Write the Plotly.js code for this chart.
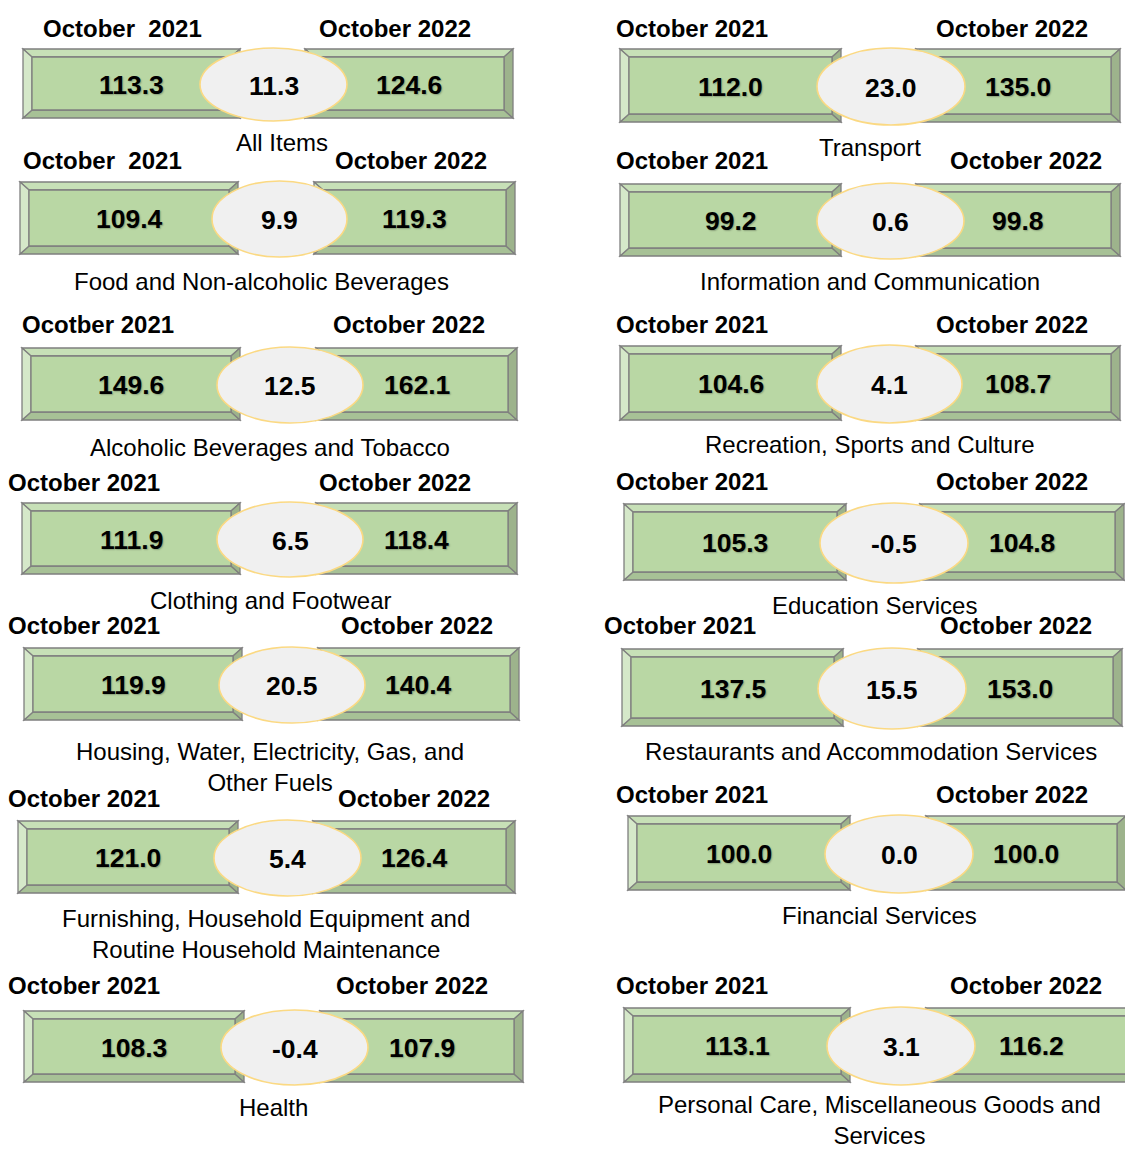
<!DOCTYPE html>
<html>
<head>
<meta charset="utf-8">
<script src="https://cdn.plot.ly/plotly-3.0.1.min.js"></script>
<style>html,body{margin:0;padding:0;background:#fff;}#chart{width:1125px;height:1149px;}</style>
</head>
<body>
<div id="chart"></div>
<script>
// ---- DATA ----
const categories = [
  "All Items",
  "Food and Non-alcoholic Beverages",
  "Alcoholic Beverages and Tobacco",
  "Clothing and Footwear",
  "Housing, Water, Electricity, Gas, and<br>Other Fuels",
  "Furnishing, Household Equipment and<br>Routine Household Maintenance",
  "Health",
  "Transport",
  "Information and Communication",
  "Recreation, Sports and Culture",
  "Education Services",
  "Restaurants and Accommodation Services",
  "Financial Services",
  "Personal Care, Miscellaneous Goods and<br>Services"
];
const oct2021 = [113.3, 109.4, 149.6, 111.9, 119.9, 121.0, 108.3, 112.0, 99.2, 104.6, 105.3, 137.5, 100.0, 113.1];
const oct2022 = [124.6, 119.3, 162.1, 118.4, 140.4, 126.4, 107.9, 135.0, 99.8, 108.7, 104.8, 153.0, 100.0, 116.2];
const change  = [11.3, 9.9, 12.5, 6.5, 20.5, 5.4, -0.4, 23.0, 0.6, 4.1, -0.5, 15.5, 0.0, 3.1];
const headerLeft = ["October  2021", "October  2021", "Ocotber 2021", "October 2021", "October 2021", "October 2021", "October 2021",
                    "October 2021", "October 2021", "October 2021", "October 2021", "October 2021", "October 2021", "October 2021"];
const headerRight = Array(14).fill("October 2022");

// ---- LAYOUT GEOMETRY (pixel positions of each panel) ----
// [headerY, headerLeftX, headerRightX, boxTop, boxBottom, leftBoxX0, leftBoxX1, rightBoxX0, rightBoxX1, ellX0, ellX1, labelX, labelY]
const panelGeom = [
  [28, 122, 395, 49, 118, 23, 240, 305, 513, 200, 347, 282, 142],
  [160, 102, 411, 182, 254, 20, 238, 314, 515, 212, 347, 261, 281],
  [324, 98, 409, 348, 420, 22, 240, 316, 517, 217, 363, 270, 447],
  [482, 84, 395, 503, 574, 22, 240, 316, 517, 217, 363, 270, 600],
  [625, 84, 417, 648, 720, 24, 242, 318, 519, 219, 365, 270, 767],
  [798, 84, 414, 821, 893, 18, 238, 313, 515, 214, 361, 266, 934],
  [985, 84, 412, 1011, 1082, 24, 244, 320, 523, 221, 368, 273, 1107],
  [28, 692, 1012, 49, 122, 620, 841, 916, 1120, 817, 965, 870, 147],
  [160, 692, 1026, 184, 256, 620, 841, 916, 1120, 817, 964, 870, 281],
  [324, 692, 1012, 346, 420, 620, 841, 916, 1120, 817, 962, 870, 444],
  [481, 692, 1012, 504, 580, 624, 846, 920, 1124, 820, 968, 874, 605],
  [625, 680, 1016, 649, 726, 622, 843, 918, 1122, 818, 966, 871, 751],
  [794, 692, 1012, 816, 890, 628, 850, 926, 1126, 825, 973, 879, 915],
  [985, 692, 1026, 1008, 1082, 624, 850, 926, 1136, 827, 975, 879, 1120]
];

// ---- STYLE ----
const FONT = "Liberation Sans, Arial, Helvetica, sans-serif";
const C = {
  face: "#b9d7a4", top: "#c7e0b7", left: "#d5e8c9", bottom: "#a7c196", right: "#9db38c",
  edge: "#7f7f7f", ellFill: "#f0f0f0", ellLine: "#fbd983"
};
const IX = 9, IY = 8;

const shapes = [];
const annotations = [];

function poly(pts, fill) {
  const d = "M" + pts.map(p => p[0] + "," + p[1]).join(" L") + " Z";
  shapes.push({type: "path", xref: "x", yref: "y", path: d, fillcolor: fill,
               line: {color: C.edge, width: 1.3}, layer: "above"});
}
function bevelBox(x0, x1, y0, y1) {
  const ix0 = x0 + IX, ix1 = x1 - IX, iy0 = y0 + IY, iy1 = y1 - IY;
  poly([[x0,y0],[x1,y0],[ix1,iy0],[ix0,iy0]], C.top);
  poly([[x0,y1],[x1,y1],[ix1,iy1],[ix0,iy1]], C.bottom);
  poly([[x0,y0],[ix0,iy0],[ix0,iy1],[x0,y1]], C.left);
  poly([[x1,y0],[ix1,iy0],[ix1,iy1],[x1,y1]], C.right);
  poly([[ix0,iy0],[ix1,iy0],[ix1,iy1],[ix0,iy1]], C.face);
}
function txt(x, y, text, size, bold, shadow) {
  const f = {family: FONT, size: size, color: "#000", weight: bold ? "bold" : "normal"};
  if (shadow) f.shadow = "1px 1px 1.5px rgba(0,0,0,0.25)";
  annotations.push({xref: "x", yref: "y", x: x, y: y, text: text, showarrow: false,
                    xanchor: "center", yanchor: "middle", font: f});
}

panelGeom.forEach((g, i) => {
  const [hy, hlx, hrx, by0, by1, lx0, lx1, rx0, rx1, ex0, ex1, labx, laby] = g;
  bevelBox(lx0, lx1, by0, by1);
  bevelBox(rx0, rx1, by0, by1);
  shapes.push({type: "circle", xref: "x", yref: "y", x0: ex0, x1: ex1, y0: by0 - 1, y1: by1 + 3,
               fillcolor: C.ellFill, line: {color: C.ellLine, width: 1.6}, layer: "above"});
  const cy = (by0 + by1) / 2;
  txt(hlx, hy, headerLeft[i], 24, true, false);
  txt(hrx, hy, headerRight[i], 24, true, false);
  txt((lx0 + lx1) / 2, cy + 1, oct2021[i].toFixed(1), 26.5, true, true);
  txt((rx0 + rx1) / 2, cy + 1, oct2022[i].toFixed(1), 26.5, true, true);
  txt((ex0 + ex1) / 2, cy + 2, change[i].toFixed(1), 26.5, true, false);
  txt(labx, laby, categories[i], 24, false, false);
});

const layout = {
  width: 1125, height: 1149,
  margin: {l: 0, r: 0, t: 0, b: 0},
  paper_bgcolor: "#ffffff", plot_bgcolor: "#ffffff",
  showlegend: false,
  xaxis: {range: [0, 1125], visible: false, fixedrange: true},
  yaxis: {range: [1149, 0], visible: false, fixedrange: true},
  shapes: shapes,
  annotations: annotations
};
Plotly.newPlot("chart", [{x: [], y: [], type: "scatter", hoverinfo: "skip"}], layout, {displayModeBar: false, staticPlot: true});
</script>
</body>
</html>
